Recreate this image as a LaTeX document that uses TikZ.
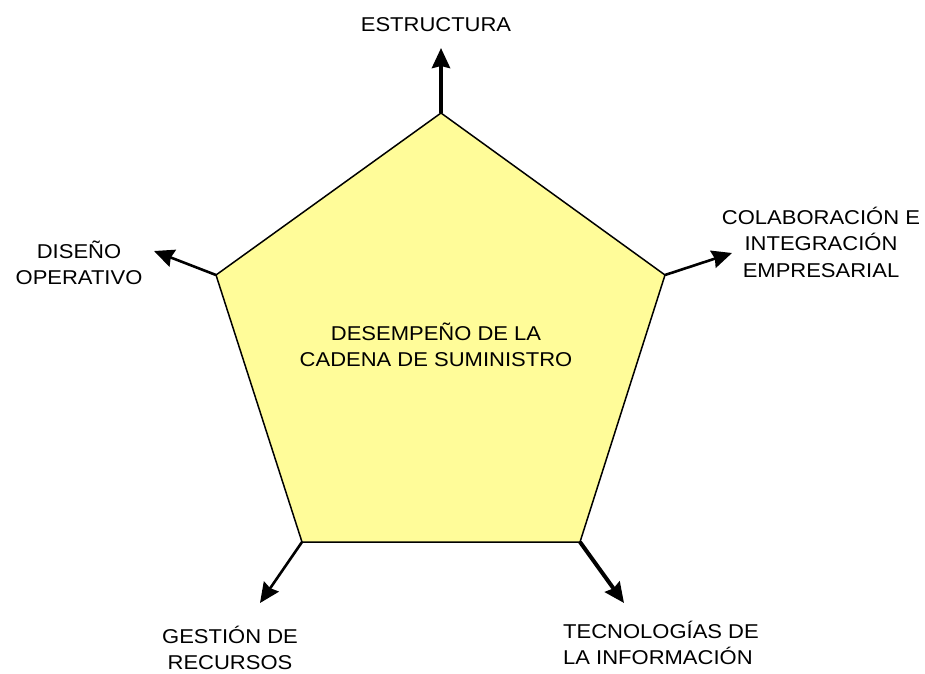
\documentclass[tikz,border=0pt]{standalone}
\usepackage{fontspec}
\setmainfont{Liberation Sans}[FakeStretch=1.1]
\usetikzlibrary{arrows.meta}
\definecolor{penta}{RGB}{255,252,153}

\begin{document}
\begin{tikzpicture}[x=1pt,y=-1pt,
    lbl/.style={font=\fontsize{20}{26.5}\selectfont, inner sep=0pt, align=center},
    axis/.style={-{Stealth[length=20pt,width=18pt,inset=2pt]}, line width=2.6pt},
    thick axis/.style={axis, line width=4pt}]
    \useasboundingbox (0,0) rectangle (925,673);
    \coordinate (v0) at (441,113);
    \coordinate (v1) at (665,275);
    \coordinate (v2) at (580,542);
    \coordinate (v3) at (302,542);
    \coordinate (v4) at (216,275);
    \coordinate (e0) at (441,48);
    \coordinate (e1) at (732,253);
    \coordinate (e2) at (624,603);
    \coordinate (e3) at (260,603);
    \coordinate (e4) at (154,251);
    \draw[axis] (v1) -- (e1);
    \draw[axis] (v3) -- (e3);
    \draw[axis] (v4) -- (e4);
    \draw[thick axis] (v0) -- (e0);
    \draw[thick axis] (v2) -- (e2);
    \filldraw[fill=penta, line width=1.5pt, line join=miter] (v0) -- (v1) -- (v2) -- (v3) -- (v4) -- cycle;
    \node[lbl] (centro) at (436,345) {DESEMPEÑO DE LA\\CADENA DE SUMINISTRO};
    \node[lbl] (estr) at (436,25) {ESTRUCTURA};
    \node[lbl] (colab) at (821,242) {COLABORACIÓN E\\INTEGRACIÓN\\EMPRESARIAL};
    \node[lbl] (diseno) at (79,263) {DISEÑO\\OPERATIVO};
    \node[lbl] (gestion) at (230,648) {GESTIÓN DE\\RECURSOS};
    \node[lbl, align=left, anchor=west] (tecno) at (563,643) {TECNOLOGÍAS DE\\LA INFORMACIÓN};
\end{tikzpicture}
\end{document}
